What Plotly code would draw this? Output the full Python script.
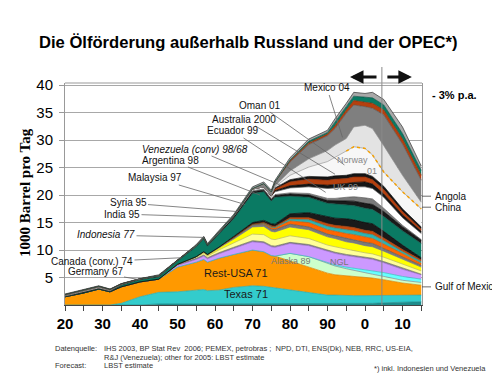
import numpy as np
import plotly.graph_objects as go

# ---------------- data (1000 barrel per day) ----------------
years = [1920, 1925, 1929, 1932, 1935, 1940, 1945, 1950, 1955, 1957, 1958, 1961, 1965, 1970,
         1973, 1975, 1976, 1980, 1985, 1990, 1992, 1995, 1997, 2000, 2002, 2005, 2010, 2015]

bottom = [0, 0, 0, 0, 0, 0, 0.2, 0.2, 0.2, 0.2, 0.2, 0.2, 0.3, 0.3, 0.3, 0.3, 0.3, 0.3, 0.3, 0.3,
          0.3, 0.3, 0.3, 0.3, 0.3, 0.4, 0.5, 0.6]
texas = [0, 0, 0, 0, 0.3, 1.5, 2.1, 2.2, 2.5, 2.6, 2.4, 2.5, 2.9, 3.2, 3.1, 2.9, 2.8, 2.4, 2.0, 1.5,
         1.5, 1.4, 1.4, 1.4, 1.4, 1.3, 1.2, 1.2]
rest_usa = [1.5, 2.2, 2.9, 2.4, 3.0, 2.7, 2.4, 4.5, 5.1, 5.5, 5.2, 5.8, 6.0, 6.5, 6.3, 5.8, 5.8, 5.3,
            4.7, 4.0, 3.7, 3.6, 3.5, 3.4, 3.2, 2.9, 2.3, 1.8]
alaska = [0] * 17 + [1.4, 1.8, 1.8, 1.6, 1.3, 1.1, 0.7, 0.7, 0.6, 0.5, 0.5]
gulf = [0] * 19 + [0.1, 0.2, 0.3, 0.4, 0.6, 0.7, 0.7, 0.7, 0.6]
ngl = [0] * 7 + [0.3, 0.5, 0.6, 0.6, 0.8, 1.1, 1.5, 1.6, 1.6, 1.6, 1.8, 2.0, 2.0, 2.1, 2.1, 2.1,
                 2.1, 2.0, 1.8, 1.3, 0.8]
gray_band = [0] * 7 + [0.2] * 20 + [0.1]
light_yellow = [0] * 8 + [0.2, 0.3, 0.3, 0.5, 0.8, 1.2, 1.3, 1.2, 1.2, 1.2, 1.1, 1.0, 1.0, 0.9, 0.9,
                          0.8, 0.8, 0.8, 0.7, 0.6]
yellow = [0] * 8 + [0.1, 0.2, 0.2, 0.3, 0.7, 1.3, 1.5, 1.4, 1.4, 1.6, 1.6, 1.5, 1.5, 1.4, 1.4, 1.3,
                    1.3, 1.1, 0.9, 0.7]
thin_gray = [0] * 9 + [0.1, 0.1, 0.2, 0.3, 0.4, 0.4, 0.4, 0.4, 0.5, 0.5, 0.5, 0.5, 0.6, 0.6, 0.6,
                       0.6, 0.5, 0.4, 0.3]
thin_orange = [0] * 13 + [0.1, 0.2, 0.3, 0.3, 0.6, 0.8, 0.8, 0.8, 0.9, 0.9, 0.9, 0.9, 0.8, 0.6, 0.4]
thin_teal = [0] * 15 + [0.1, 0.1, 0.3, 0.5, 0.6, 0.6, 0.7, 0.7, 0.7, 0.7, 0.6, 0.4, 0.3]
thin_red = [0] * 14 + [0.1, 0.2, 0.2, 0.3, 0.4, 0.5, 0.5, 0.6, 0.6, 0.6, 0.6, 0.5, 0.4, 0.3]
thin_black = [0] * 12 + [0.2, 0.3, 0.4, 0.4, 0.4, 0.7, 0.9, 1.2, 1.3, 1.4, 1.4, 1.4, 1.4, 1.2, 0.8, 0.4]
green = [0, 0, 0, 0, 0.3, 0.4, 0.4, 0.6, 1.8, 2.3, 1.5, 2.4, 3.2, 5.3, 5.2, 4.1, 4.9, 3.2, 2.8, 2.5,
         2.6, 2.6, 2.6, 2.6, 2.6, 2.7, 2.6, 2.6]
up_black1 = [0.1, 0.15, 0.15, 0.15, 0.1, 0.1, 0.15, 0.1, 0.15, 0.2, 0.2, 0.2, 0.3, 0.3, 0.3, 0.3, 0.3,
             0.4, 0.4, 0.5, 0.6, 0.7, 0.8, 0.9, 0.9, 0.9, 0.7, 0.6]
up_gray = [0] * 12 + [0.1, 0.2, 0.2, 0.2, 0.2, 0.2, 0.3, 0.4, 0.4, 0.6, 0.8, 1.0, 1.0, 0.6, 0.3, 0.1]
up_white = [0.2, 0.25, 0.25, 0.2, 0.1, 0.05, 0.1, 0.05, 0.1, 0.1, 0.1, 0.2, 0.2, 0.3, 0.4, 0.4, 0.5,
            0.9, 1.2, 1.8, 1.9, 1.8, 1.8, 2.0, 1.9, 2.0, 1.4, 1.1]
uk_black1 = [0] * 16 + [0.2, 0.4, 0.5, 0.6, 0.6, 0.7, 0.8, 0.9, 0.8, 0.6, 0.5, 0.4]
uk_red = [0] * 15 + [0.1, 0.3, 0.7, 0.9, 0.9, 1.0, 0.9, 1.0, 0.9, 0.8, 0.8, 0.6, 0.4]
uk_black2 = [0] * 16 + [0.2, 0.4, 0.5, 0.6, 0.6, 0.6, 0.6, 0.6, 0.6, 0.6, 0.5, 0.4]
norway = [0] * 16 + [0.2, 0.8, 1.7, 2.8, 3.4, 4.4, 4.9, 4.6, 3.9, 2.6, 3.1, 3.3]
others_light = [0] * 16 + [0.2, 0.8, 1.5, 2.0, 2.2, 2.3, 3.6, 4.2, 4.8, 4.8, 3.0, 1.2]
mexico = [0.1, 0.1, 0.1, 0.1, 0.05, 0, 0, 0, 0, 0, 0, 0, 0, 0.1, 0.6, 0.7, 0.7, 1.6, 2.6, 2.7, 3.0,
          4.6, 4.0, 3.4, 3.7, 5.6, 5.7, 4.0]
top_red = [0] * 17 + [0.2, 0.3, 0.3, 0.5, 0.6, 0.8, 0.8, 0.9, 0.9, 0.9, 0.9]
top_green = [0] * 17 + [0.2, 0.3, 0.3, 0.6, 0.6, 0.8, 0.9, 1.0, 0.9, 1.0, 0.9]
top_silver = [0.1, 0.1, 0.1, 0.05, 0.05, 0.05, 0.15, 0.05, 0.15, 0.2, 0.2, 0.2, 0.2, 0.3, 0.3, 0.3,
              0.3, 0.4, 0.4, 0.4, 0.7, 0.6, 0.7, 0.7, 1.0, 1.0, 1.2, 0.8]

x_tick_vals = list(range(1920, 2016, 5))
x_tick_text = ["20", "", "30", "", "40", "", "50", "", "60", "", "70", "", "80", "", "90", "",
               "0", "", "10", ""]
y_tick_vals = [5, 10, 15, 20, 25, 30, 35, 40]

# ---------------- layers: (values, fill, line) bottom -> top ----------------
layers = [
    (bottom, "#1E8C8C", "#1E8C8C"),
    (texas, "#33CCCC", "#2AA8A8"),
    (rest_usa, "#FF9900", "#D98000"),
    (alaska, "#CCFFCC", "#8A8A8A"),
    (gulf, "#66FFFF", "#33BBBB"),
    (ngl, "#CC99FF", "#9966CC"),
    (gray_band, "#8C8C8C", "#666666"),
    (light_yellow, "#FFFF99", "#B8B860"),
    (yellow, "#FFFF00", "#777777"),
    (thin_gray, "#7A7A7A", "#555555"),
    (thin_orange, "#FF6600", "#CC5500"),
    (thin_teal, "#2BB5B5", "#1E8E8E"),
    (thin_red, "#C84B0C", "#993300"),
    (thin_black, "#1A1A1A", "#000000"),
    (green, "#0A7A63", "#064D40"),
    (up_black1, "#1A1A1A", "#000000"),
    (up_gray, "#7A7A7A", "#555555"),
    (up_white, "#FFFFFF", "#666666"),
    (uk_black1, "#151515", "#000000"),
    (uk_red, "#B5400E", "#8B2500"),
    (uk_black2, "#151515", "#000000"),
    (norway, "#F7F7F7", "#9A9A9A"),
    (others_light, "#E3E3E3", "#8A8A8A"),
    (mexico, "#7F7F7F", "#555555"),
    (top_red, "#B5400E", "#8B2500"),
    (top_green, "#0A7A63", "#064D40"),
    (top_silver, "#A8A8A8", "#333333"),
]

fig = go.Figure()
for vals, fc, lc in layers:
    fig.add_trace(go.Scatter(
        x=years, y=vals, mode="lines", stackgroup="one",
        line=dict(color=lc, width=0.7), fillcolor=fc, hoverinfo="skip"))

# dotted boundary on top of the Norway layer (derived from the stacked data)
stack = np.cumsum(np.array([l[0] for l in layers], dtype=float), axis=0)
norway_top = stack[21]
sel = [i for i, yv in enumerate(years) if yv >= 1995]
fig.add_trace(go.Scatter(x=[years[i] for i in sel], y=[norway_top[i] for i in sel], mode="lines",
                         line=dict(color="#F5A000", width=1.5, dash="dot"), hoverinfo="skip"))

# ---------------- layout helpers (page pixels; page has an 8px body margin) ----------------
PAGE_OFF = 8
FIG_W, FIG_H = 500 - PAGE_OFF, 375 - PAGE_OFF
L, R, T, B = 65, 422, 83, 305          # plot area in page pixels
X0, X1 = 1920, 2015.2
Y0, Y1 = 0, 40.4


def px(x):
    return (x - L) / (R - L)


def py(y):
    return (B - y) / (B - T)


def xpix(year):
    return L + (year - X0) / (X1 - X0) * (R - L)


def ypix(v):
    return B - (v - Y0) / (Y1 - Y0) * (B - T)


FONT = "Liberation Sans, Arial, sans-serif"
ann = []


def label(text, x, y, size, color="#111", xanchor="center", textangle=0, family=FONT):
    ann.append(dict(text=text, x=px(x), y=py(y), xref="paper", yref="paper", showarrow=False,
                    xanchor=xanchor, yanchor="middle", textangle=textangle,
                    font=dict(family=family, size=size, color=color)))


# title
label("<b>Die Ölförderung außerhalb Russland und der OPEC*)</b>", 249, 42, 16.6, "#000")

# pointer labels (text centre in page px, end point in data)
pointers = [
    ("Mexico 04", (327, 88), (1994, 30.5), False),
    ("Oman 01", (260, 105), (1994.5, 25.5), False),
    ("Australia 2000", (244, 119), (1992, 23.8), False),
    ("Ecuador 99", (233, 131), (1989.5, 20.5), False),
    ("Venezuela (conv) 98/68", (195, 149), (1977.5, 21.8), True),
    ("Argentina 98", (170, 160), (1972, 20.0), False),
    ("Malaysia 97", (155, 178), (1968, 18.3), False),
    ("Syria 95", (128, 203), (1966, 17.0), False),
    ("India 95", (122, 214), (1964, 15.9), False),
    ("Indonesia 77", (106, 235), (1957, 12.3), True),
    ("Canada (conv.) 74", (92, 262), (1951, 8.6), False),
    ("Germany 67", (95, 272), (1940, 4.6), False),
]
for text, (tx, ty), (ex, ey), ital in pointers:
    t = f"<i>{text}</i>" if ital else text
    ann.append(dict(text=t, x=ex, y=ey, xref="x", yref="y", ax=tx - xpix(ex), ay=ty - ypix(ey),
                    xanchor="center", yanchor="middle",
                    showarrow=True, arrowhead=0, arrowwidth=0.8, arrowcolor="#666", standoff=0,
                    font=dict(family=FONT, size=10, color="#111")))

# labels inside chart
label("Rest-USA 71", 236, 273, 11, "#1a1a1a")
label("Texas 71", 246, 294, 11, "#1a1a1a")
label("Alaska 89", 291, 261, 9, "#777")
label("NGL", 339, 262, 9, "#777")
label("Norway", 352, 160, 9, "#888")
label("01", 372, 171, 9, "#888")
label("UK 99", 345, 187, 9, "#888")

# right side labels with short leader lines
label("<b>- 3% p.a.</b>", 430, 95, 11, "#000", xanchor="left")
right_labels = [("Angola", 19.8), ("China", 17.8), ("Gulf of Mexico", 3.3)]
shapes = []
for text, val in right_labels:
    yp = ypix(val)
    label(text, 433, yp, 10, "#111", xanchor="left")
    shapes.append(dict(type="line", xref="paper", yref="y", x0=1.0, x1=px(431), y0=val, y1=val,
                       line=dict(color="#444", width=0.8)))

# forecast arrows
ann.append(dict(text="", x=1996, y=py(77), xref="x", yref="paper", ax=28, ay=0, showarrow=True,
                arrowhead=2, arrowsize=0.9, arrowwidth=3, arrowcolor="#111"))
ann.append(dict(text="", x=2012.5, y=py(77), xref="x", yref="paper", ax=-26, ay=0, showarrow=True,
                arrowhead=2, arrowsize=0.9, arrowwidth=3, arrowcolor="#111"))

# footer
label("Datenquelle:", 53, 348, 7.5, "#333", xanchor="left")
label("IHS 2003, BP Stat Rev  2006; PEMEX, petrobras ;  NPD, DTI, ENS(Dk), NEB, RRC, US-EIA,", 102, 348,
      7.5, "#333", xanchor="left")
label("R&amp;J (Venezuela); other for 2005: LBST estimate", 102, 357, 7.5, "#333", xanchor="left")
label("Forecast:", 53, 365, 7.5, "#333", xanchor="left")
label("LBST estimate", 102, 365, 7.5, "#333", xanchor="left")
label("*) inkl. Indonesien und Venezuela", 372, 368, 7.5, "#333", xanchor="left")

# y axis title
label("<b>1000 Barrel pro Tag</b>", 25, 193, 15, "#000", textangle=-90,
      family="Liberation Serif, serif")

shapes += [
    dict(type="line", xref="x", yref="paper", x0=2004.5, x1=2004.5, y0=0, y1=py(67),
         line=dict(color="#888", width=1), layer="above"),
    dict(type="line", xref="paper", yref="paper", x0=0, x1=1, y0=1, y1=1,
         line=dict(color="#999", width=1)),
]

fig.update_layout(
    width=FIG_W, height=FIG_H,
    margin=dict(l=L - PAGE_OFF, r=FIG_W - (R - PAGE_OFF), t=T - PAGE_OFF, b=FIG_H - (B - PAGE_OFF)),
    paper_bgcolor="white", plot_bgcolor="white", showlegend=False,
    annotations=ann, shapes=shapes,
    xaxis=dict(range=[X0, X1], tickvals=x_tick_vals, ticktext=x_tick_text, ticks="outside",
               ticklen=5, tickcolor="#444", showgrid=False, zeroline=False, showline=True,
               linecolor="#444", linewidth=1,
               tickfont=dict(family=FONT, size=15, color="#000", weight="bold")),
    yaxis=dict(range=[Y0, Y1], tickvals=y_tick_vals, ticks="outside", ticklen=5, tickcolor="#999",
               showgrid=True, gridcolor="#A8A8A8", gridwidth=1, zeroline=False, showline=True,
               linecolor="#999", mirror=True, ticklabelstandoff=3,
               tickfont=dict(family=FONT, size=15, color="#000")),
)

fig.write_html("out.html")
